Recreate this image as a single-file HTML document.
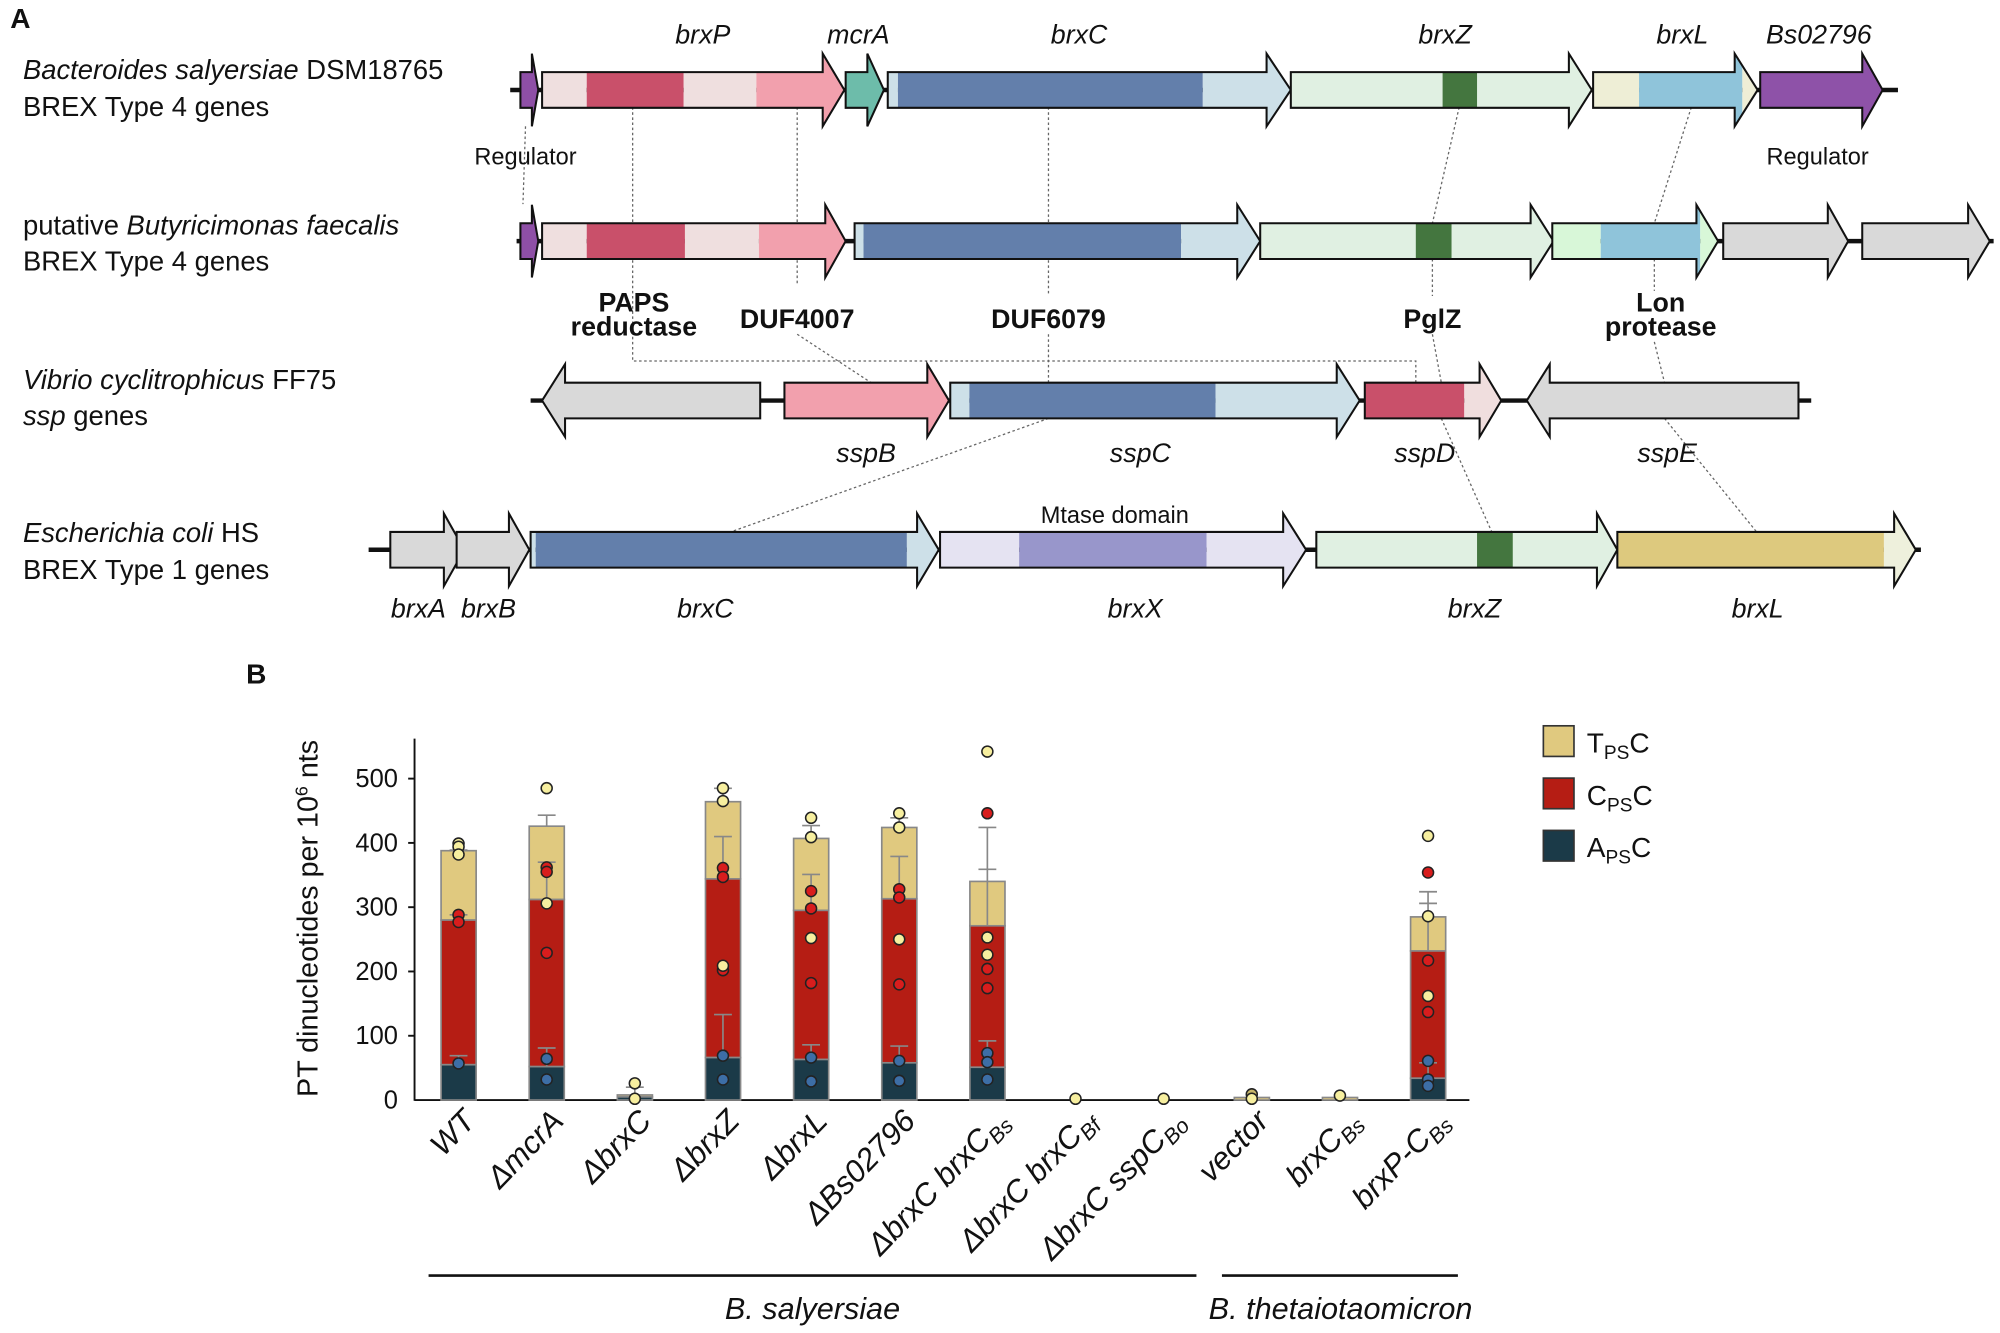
<!DOCTYPE html>
<html><head><meta charset="utf-8"><style>
html,body{margin:0;padding:0;background:#fff}
svg{display:block}
text{font-family:"Liberation Sans",Arial,sans-serif;fill:#111}
.it{font-style:italic}
.ol{fill:none;stroke:#111;stroke-width:1.6;stroke-linejoin:miter}
.dl{stroke:#666;stroke-width:1;stroke-dasharray:2,2;fill:none}
.bb{stroke:#111;stroke-width:3.5}
.bar{stroke:#888;stroke-width:1.3}
.eb{stroke:#888;stroke-width:1.3;fill:none}
.dy{fill:#f7ef9f;stroke:#222;stroke-width:1.2}
.dr{fill:#d81d1d;stroke:#222;stroke-width:1.2}
.db{fill:#3d6ea6;stroke:#222;stroke-width:1.2}
</style></head><body>
<svg width="2000" height="1333" viewBox="0 0 1568 1045" xmlns="http://www.w3.org/2000/svg">
<defs>
<clipPath id="a1"><polygon points="408,56.5 417,56.5 417,42 422,70.5 417,99 417,84.5 408,84.5"/></clipPath>
<clipPath id="a2"><polygon points="425,56.5 645,56.5 645,42 662,70.5 645,99 645,84.5 425,84.5"/></clipPath>
<clipPath id="a3"><polygon points="663,56.5 680,56.5 680,42 693,70.5 680,99 680,84.5 663,84.5"/></clipPath>
<clipPath id="a4"><polygon points="696,56.5 993,56.5 993,42 1012,70.5 993,99 993,84.5 696,84.5"/></clipPath>
<clipPath id="a5"><polygon points="1012,56.5 1230,56.5 1230,42 1248,70.5 1230,99 1230,84.5 1012,84.5"/></clipPath>
<clipPath id="a6"><polygon points="1249,56.5 1360,56.5 1360,42 1378,70.5 1360,99 1360,84.5 1249,84.5"/></clipPath>
<clipPath id="a7"><polygon points="1380,56.5 1460,56.5 1460,42 1476,70.5 1460,99 1460,84.5 1380,84.5"/></clipPath>
<clipPath id="b1"><polygon points="408,175 417,175 417,160.5 422,189 417,217.5 417,203 408,203"/></clipPath>
<clipPath id="b2"><polygon points="425,175 647,175 647,160.5 663,189 647,217.5 647,203 425,203"/></clipPath>
<clipPath id="b3"><polygon points="670,175 970,175 970,160.5 988,189 970,217.5 970,203 670,203"/></clipPath>
<clipPath id="b4"><polygon points="988,175 1200,175 1200,160.5 1218,189 1200,217.5 1200,203 988,203"/></clipPath>
<clipPath id="b5"><polygon points="1217,175 1330,175 1330,160.5 1347,189 1330,217.5 1330,203 1217,203"/></clipPath>
<clipPath id="c3"><polygon points="745,300 1048,300 1048,285.5 1066,314 1048,342.5 1048,328 745,328"/></clipPath>
<clipPath id="c4"><polygon points="1070,300 1160,300 1160,285.5 1177,314 1160,342.5 1160,328 1070,328"/></clipPath>
<clipPath id="d3"><polygon points="416,417 719,417 719,402.5 736,431 719,459.5 719,445 416,445"/></clipPath>
<clipPath id="d4"><polygon points="737,417 1006,417 1006,402.5 1024,431 1006,459.5 1006,445 737,445"/></clipPath>
<clipPath id="d5"><polygon points="1032,417 1252,417 1252,402.5 1268,431 1252,459.5 1252,445 1032,445"/></clipPath>
<clipPath id="d6"><polygon points="1268,417 1485,417 1485,402.5 1502,431 1485,459.5 1485,445 1268,445"/></clipPath>
</defs>

<text x="8" y="22" font-size="22" font-weight="bold">A</text>

<polyline class="dl" points="412,99 410,160"/>
<polyline class="dl" points="496,84 496,283 1110,283 1110,300"/>
<polyline class="dl" points="625,84 625,222"/>
<polyline class="dl" points="625,262 683,300"/>
<polyline class="dl" points="822,84 822,232"/>
<polyline class="dl" points="822,262 822,300"/>
<polyline class="dl" points="822,328 570,418"/>
<polyline class="dl" points="1144,84 1123,175"/>
<polyline class="dl" points="1123,203 1123,232"/>
<polyline class="dl" points="1123,262 1130,300"/>
<polyline class="dl" points="1130,328 1170,418"/>
<polyline class="dl" points="1326,84 1297,175"/>
<polyline class="dl" points="1297,203 1297,228"/>
<polyline class="dl" points="1297,268 1305,300"/>
<polyline class="dl" points="1305,328 1378,418"/>

<g font-size="21.5">
<text x="18" y="62"><tspan class="it">Bacteroides salyersiae</tspan> DSM18765</text>
<text x="18" y="91">BREX Type 4 genes</text>
<text x="18" y="184">putative <tspan class="it">Butyricimonas faecalis</tspan></text>
<text x="18" y="212">BREX Type 4 genes</text>
<text x="18" y="305"><tspan class="it">Vibrio cyclitrophicus</tspan> FF75</text>
<text x="18" y="333"><tspan class="it">ssp</tspan> genes</text>
<text x="18" y="425"><tspan class="it">Escherichia coli</tspan> HS</text>
<text x="18" y="454">BREX Type 1 genes</text>
</g>

<line class="bb" x1="400" y1="70.5" x2="1488" y2="70.5"/>
<g clip-path="url(#a1)"><rect x="400" y="30" width="30" height="80" fill="#8e4fa6"/></g>
<polygon class="ol" points="408,56.5 417,56.5 417,42 422,70.5 417,99 417,84.5 408,84.5"/>
<g clip-path="url(#a2)"><rect x="425" y="30" width="35" height="80" fill="#efdfdf"/><rect x="460" y="30" width="76" height="80" fill="#c9506a"/><rect x="536" y="30" width="57" height="80" fill="#efdfdf"/><rect x="593" y="30" width="70" height="80" fill="#f2a0ad"/></g>
<polygon class="ol" points="425,56.5 645,56.5 645,42 662,70.5 645,99 645,84.5 425,84.5"/>
<g clip-path="url(#a3)"><rect x="660" y="30" width="40" height="80" fill="#6dbcaa"/></g>
<polygon class="ol" points="663,56.5 680,56.5 680,42 693,70.5 680,99 680,84.5 663,84.5"/>
<g clip-path="url(#a4)"><rect x="696" y="30" width="8" height="80" fill="#cde0e8"/><rect x="704" y="30" width="239" height="80" fill="#637fab"/><rect x="943" y="30" width="70" height="80" fill="#cde0e8"/></g>
<polygon class="ol" points="696,56.5 993,56.5 993,42 1012,70.5 993,99 993,84.5 696,84.5"/>
<g clip-path="url(#a5)"><rect x="1012" y="30" width="240" height="80" fill="#e0f0e2"/><rect x="1131" y="30" width="27" height="80" fill="#44763f"/></g>
<polygon class="ol" points="1012,56.5 1230,56.5 1230,42 1248,70.5 1230,99 1230,84.5 1012,84.5"/>
<g clip-path="url(#a6)"><rect x="1249" y="30" width="36" height="80" fill="#eeeed6"/><rect x="1285" y="30" width="81" height="80" fill="#8fc4da"/><rect x="1366" y="30" width="14" height="80" fill="#eeeed6"/></g>
<polygon class="ol" points="1249,56.5 1360,56.5 1360,42 1378,70.5 1360,99 1360,84.5 1249,84.5"/>
<g clip-path="url(#a7)"><rect x="1378" y="30" width="100" height="80" fill="#8e52a8"/></g>
<polygon class="ol" points="1380,56.5 1460,56.5 1460,42 1476,70.5 1460,99 1460,84.5 1380,84.5"/>
<g font-size="21" text-anchor="middle">
<text x="551" y="34" class="it">brxP</text><text x="673" y="34" class="it">mcrA</text><text x="846" y="34" class="it">brxC</text><text x="1133" y="34" class="it">brxZ</text><text x="1319" y="34" class="it">brxL</text><text x="1426" y="34" class="it">Bs02796</text>
</g>
<text x="412" y="129" font-size="18.5" text-anchor="middle">Regulator</text>
<text x="1425" y="129" font-size="18.5" text-anchor="middle">Regulator</text>

<line class="bb" x1="405" y1="189" x2="1563" y2="189"/>
<g clip-path="url(#b1)"><rect x="400" y="150" width="30" height="80" fill="#8e4fa6"/></g>
<polygon class="ol" points="408,175 417,175 417,160.5 422,189 417,217.5 417,203 408,203"/>
<g clip-path="url(#b2)"><rect x="425" y="150" width="35" height="80" fill="#efdfdf"/><rect x="460" y="150" width="77" height="80" fill="#c9506a"/><rect x="537" y="150" width="58" height="80" fill="#efdfdf"/><rect x="595" y="150" width="70" height="80" fill="#f2a0ad"/></g>
<polygon class="ol" points="425,175 647,175 647,160.5 663,189 647,217.5 647,203 425,203"/>
<g clip-path="url(#b3)"><rect x="670" y="150" width="7" height="80" fill="#cde0e8"/><rect x="677" y="150" width="249" height="80" fill="#637fab"/><rect x="926" y="150" width="64" height="80" fill="#cde0e8"/></g>
<polygon class="ol" points="670,175 970,175 970,160.5 988,189 970,217.5 970,203 670,203"/>
<g clip-path="url(#b4)"><rect x="988" y="150" width="232" height="80" fill="#e0f0e2"/><rect x="1110" y="150" width="28" height="80" fill="#44763f"/></g>
<polygon class="ol" points="988,175 1200,175 1200,160.5 1218,189 1200,217.5 1200,203 988,203"/>
<g clip-path="url(#b5)"><rect x="1217" y="150" width="38" height="80" fill="#d8f7d8"/><rect x="1255" y="150" width="78" height="80" fill="#8fc4da"/><rect x="1333" y="150" width="16" height="80" fill="#d8f7d8"/></g>
<polygon class="ol" points="1217,175 1330,175 1330,160.5 1347,189 1330,217.5 1330,203 1217,203"/>
<polygon class="ol" style="fill:#d9d9d9" points="1351,175 1433,175 1433,160.5 1449,189 1433,217.5 1433,203 1351,203"/>
<polygon class="ol" style="fill:#d9d9d9" points="1460,175 1543,175 1543,160.5 1560,189 1543,217.5 1543,203 1460,203"/>
<g font-size="21" font-weight="bold" text-anchor="middle">
<text x="497" y="244">PAPS</text><text x="497" y="263">reductase</text>
<text x="625" y="257">DUF4007</text><text x="822" y="257">DUF6079</text><text x="1123" y="257">PglZ</text>
<text x="1302" y="244">Lon</text><text x="1302" y="263">protease</text>
</g>

<line class="bb" x1="416" y1="314" x2="1420" y2="314"/>
<polygon class="ol" style="fill:#d9d9d9" points="596,300 443,300 443,285.5 425,314 443,342.5 443,328 596,328"/>
<polygon class="ol" style="fill:#f2a0ad" points="615,300 727,300 727,285.5 744,314 727,342.5 727,328 615,328"/>
<g clip-path="url(#c3)"><rect x="745" y="270" width="15" height="80" fill="#cde0e8"/><rect x="760" y="270" width="193" height="80" fill="#637fab"/><rect x="953" y="270" width="115" height="80" fill="#cde0e8"/></g>
<polygon class="ol" points="745,300 1048,300 1048,285.5 1066,314 1048,342.5 1048,328 745,328"/>
<g clip-path="url(#c4)"><rect x="1070" y="270" width="78" height="80" fill="#c9506a"/><rect x="1148" y="270" width="30" height="80" fill="#f0dede"/></g>
<polygon class="ol" points="1070,300 1160,300 1160,285.5 1177,314 1160,342.5 1160,328 1070,328"/>
<polygon class="ol" style="fill:#d9d9d9" points="1410,300 1215,300 1215,285.5 1197,314 1215,342.5 1215,328 1410,328"/>
<g font-size="21" text-anchor="middle">
<text x="679" y="362" class="it">sspB</text><text x="894" y="362" class="it">sspC</text><text x="1117" y="362" class="it">sspD</text><text x="1307" y="362" class="it">sspE</text>
</g>

<line class="bb" x1="289" y1="431" x2="1506" y2="431"/>
<polygon class="ol" style="fill:#d9d9d9" points="306,417 348,417 348,402.5 364,431 348,459.5 348,445 306,445"/>
<polygon class="ol" style="fill:#d9d9d9" points="358,417 399,417 399,402.5 415,431 399,459.5 399,445 358,445"/>
<g clip-path="url(#d3)"><rect x="416" y="390" width="4" height="80" fill="#cde0e8"/><rect x="420" y="390" width="291" height="80" fill="#637fab"/><rect x="711" y="390" width="26" height="80" fill="#cde0e8"/></g>
<polygon class="ol" points="416,417 719,417 719,402.5 736,431 719,459.5 719,445 416,445"/>
<g clip-path="url(#d4)"><rect x="737" y="390" width="62" height="80" fill="#e5e3f2"/><rect x="799" y="390" width="147" height="80" fill="#9896cb"/><rect x="946" y="390" width="80" height="80" fill="#e5e3f2"/></g>
<polygon class="ol" points="737,417 1006,417 1006,402.5 1024,431 1006,459.5 1006,445 737,445"/>
<g clip-path="url(#d5)"><rect x="1032" y="390" width="238" height="80" fill="#e0f0e2"/><rect x="1158" y="390" width="28" height="80" fill="#44763f"/></g>
<polygon class="ol" points="1032,417 1252,417 1252,402.5 1268,431 1252,459.5 1252,445 1032,445"/>
<g clip-path="url(#d6)"><rect x="1268" y="390" width="209" height="80" fill="#ddc97e"/><rect x="1477" y="390" width="27" height="80" fill="#eef0dc"/></g>
<polygon class="ol" points="1268,417 1485,417 1485,402.5 1502,431 1485,459.5 1485,445 1268,445"/>
<text x="874" y="410" font-size="18.5" text-anchor="middle">Mtase domain</text>
<g font-size="21" text-anchor="middle">
<text x="328" y="484" class="it">brxA</text><text x="383" y="484" class="it">brxB</text><text x="553" y="484" class="it">brxC</text><text x="890" y="484" class="it">brxX</text><text x="1156" y="484" class="it">brxZ</text><text x="1378" y="484" class="it">brxL</text>
</g>

<text x="193" y="536" font-size="22" font-weight="bold">B</text>
<text transform="translate(249,720) rotate(-90)" font-size="22.5" text-anchor="middle">PT dinucleotides per 10<tspan font-size="14" dy="-8">6</tspan><tspan dy="8"> nts</tspan></text>
<g font-size="20" text-anchor="end">
<text x="312" y="869">0</text><text x="312" y="818.6">100</text><text x="312" y="768.2">200</text><text x="312" y="717.8">300</text><text x="312" y="667.4">400</text><text x="312" y="617">500</text>
</g>
<g stroke="#111" stroke-width="1.5">
<line x1="325" y1="579" x2="325" y2="863"/>
<line x1="325" y1="862.4" x2="1152" y2="862.4"/>
<line x1="320" y1="812" x2="325" y2="812"/><line x1="320" y1="761.6" x2="325" y2="761.6"/><line x1="320" y1="711.2" x2="325" y2="711.2"/><line x1="320" y1="660.8" x2="325" y2="660.8"/><line x1="320" y1="610.4" x2="325" y2="610.4"/>
</g>

<g class="bar">
<rect x="345.8" y="666.9" width="27.5" height="54.4" fill="#e0c97f"/><rect x="345.8" y="721.3" width="27.5" height="113.4" fill="#b51d14"/><rect x="345.8" y="834.7" width="27.5" height="27.7" fill="#1b3a48"/>
<rect x="414.9" y="647.7" width="27.5" height="57.5" fill="#e0c97f"/><rect x="414.9" y="705.2" width="27.5" height="131" fill="#b51d14"/><rect x="414.9" y="836.2" width="27.5" height="26.2" fill="#1b3a48"/>
<rect x="484" y="858.4" width="27.5" height="1.5" fill="#e0c97f"/><rect x="484" y="859.9" width="27.5" height="2.5" fill="#1b3a48"/>
<rect x="553.1" y="628.5" width="27.5" height="60.5" fill="#e0c97f"/><rect x="553.1" y="689" width="27.5" height="140.1" fill="#b51d14"/><rect x="553.1" y="829.1" width="27.5" height="33.3" fill="#1b3a48"/>
<rect x="622.2" y="657.3" width="27.5" height="56.4" fill="#e0c97f"/><rect x="622.2" y="713.7" width="27.5" height="116.9" fill="#b51d14"/><rect x="622.2" y="830.6" width="27.5" height="31.8" fill="#1b3a48"/>
<rect x="691.3" y="648.7" width="27.5" height="55.9" fill="#e0c97f"/><rect x="691.3" y="704.6" width="27.5" height="128.6" fill="#b51d14"/><rect x="691.3" y="833.2" width="27.5" height="29.2" fill="#1b3a48"/>
<rect x="760.4" y="691" width="27.5" height="34.8" fill="#e0c97f"/><rect x="760.4" y="725.8" width="27.5" height="110.9" fill="#b51d14"/><rect x="760.4" y="836.7" width="27.5" height="25.7" fill="#1b3a48"/>
<rect x="967.7" y="860.4" width="27.5" height="2" fill="#e0c97f"/>
<rect x="1036.8" y="860.4" width="27.5" height="2" fill="#e0c97f"/>
<rect x="1105.9" y="718.8" width="27.5" height="26.7" fill="#e0c97f"/><rect x="1105.9" y="745.5" width="27.5" height="99.8" fill="#b51d14"/><rect x="1105.9" y="845.3" width="27.5" height="17.1" fill="#1b3a48"/>
</g>

<g class="eb">
<path d="M359.5 834.7V827.6M352.5 827.6h14M359.5 721.3V717.2M352.5 717.2h14M359.5 666.9V666.4M352.5 666.4h14"/>
<path d="M428.6 836.2V821.6M421.6 821.6h14M428.6 705.2V675.9M421.6 675.9h14M428.6 647.7V639.1M421.6 639.1h14"/>
<path d="M497.7 858.4V852.3M490.7 852.3h14"/>
<path d="M566.8 829.1V795.4M559.8 795.4h14M566.8 689V655.8M559.8 655.8h14M566.8 628.5V618M559.8 618h14"/>
<path d="M635.9 830.6V819.1M628.9 819.1h14M635.9 713.7V685.5M628.9 685.5h14M635.9 657.3V647.2M628.9 647.2h14"/>
<path d="M705 833.2V820.1M698 820.1h14M705 704.6V671.4M698 671.4h14M705 648.7V641.1M698 641.1h14"/>
<path d="M774.1 836.7V816M767.1 816h14M774.1 725.8V681.5M767.1 681.5h14M774.1 691V648.7M767.1 648.7h14"/>
<path d="M1119.6 845.3V833.2M1112.6 833.2h14M1119.6 745.5V708.2M1112.6 708.2h14M1119.6 718.8V699.1M1112.6 699.1h14"/>
</g>

<g>
<circle class="dy" cx="359.5" cy="661.3" r="4.3"/><circle class="dy" cx="359.5" cy="663.8" r="4.3"/><circle class="dy" cx="359.5" cy="669.9" r="4.3"/><circle class="dr" cx="359.5" cy="717.2" r="4.3"/><circle class="dr" cx="359.5" cy="722.8" r="4.3"/><circle class="db" cx="359.5" cy="833.7" r="4.3"/>
<circle class="dy" cx="428.6" cy="617.9" r="4.3"/><circle class="dy" cx="428.6" cy="708.2" r="4.3"/><circle class="dr" cx="428.6" cy="680" r="4.3"/><circle class="dr" cx="428.6" cy="683.5" r="4.3"/><circle class="dr" cx="428.6" cy="747" r="4.3"/><circle class="db" cx="428.6" cy="830.1" r="4.3"/><circle class="db" cx="428.6" cy="846.3" r="4.3"/>
<circle class="dy" cx="497.7" cy="849.3" r="4.3"/><circle class="dy" cx="497.7" cy="861.4" r="4.3"/>
<circle class="dy" cx="566.8" cy="617.9" r="4.3"/><circle class="dy" cx="566.8" cy="628" r="4.3"/><circle class="dr" cx="566.8" cy="680.5" r="4.3"/><circle class="dr" cx="566.8" cy="687.5" r="4.3"/><circle class="dr" cx="566.8" cy="760.6" r="4.3"/><circle class="dy" cx="566.8" cy="757.1" r="4.3"/><circle class="db" cx="566.8" cy="827.6" r="4.3"/><circle class="db" cx="566.8" cy="846.3" r="4.3"/>
<circle class="dy" cx="635.9" cy="641.1" r="4.3"/><circle class="dy" cx="635.9" cy="656.3" r="4.3"/><circle class="dy" cx="635.9" cy="735.4" r="4.3"/><circle class="dr" cx="635.9" cy="698.6" r="4.3"/><circle class="dr" cx="635.9" cy="712.2" r="4.3"/><circle class="dr" cx="635.9" cy="770.7" r="4.3"/><circle class="db" cx="635.9" cy="829.1" r="4.3"/><circle class="db" cx="635.9" cy="847.8" r="4.3"/>
<circle class="dy" cx="705" cy="637.6" r="4.3"/><circle class="dy" cx="705" cy="648.7" r="4.3"/><circle class="dy" cx="705" cy="736.4" r="4.3"/><circle class="dr" cx="705" cy="697.1" r="4.3"/><circle class="dr" cx="705" cy="703.6" r="4.3"/><circle class="dr" cx="705" cy="771.7" r="4.3"/><circle class="db" cx="705" cy="831.7" r="4.3"/><circle class="db" cx="705" cy="847.3" r="4.3"/>
<circle class="dy" cx="774.1" cy="589.2" r="4.3"/><circle class="dy" cx="774.1" cy="734.9" r="4.3"/><circle class="dy" cx="774.1" cy="748.5" r="4.3"/><circle class="dr" cx="774.1" cy="637.6" r="4.3"/><circle class="dr" cx="774.1" cy="759.6" r="4.3"/><circle class="dr" cx="774.1" cy="774.7" r="4.3"/><circle class="db" cx="774.1" cy="825.6" r="4.3"/><circle class="db" cx="774.1" cy="832.7" r="4.3"/><circle class="db" cx="774.1" cy="846.3" r="4.3"/>
<circle class="dy" cx="843.2" cy="861.4" r="4.3"/>
<circle class="dy" cx="912.3" cy="861.4" r="4.3"/>
<circle class="dy" cx="981.4" cy="857.9" r="4.3" style="fill:#c9b76a"/><circle class="dy" cx="981.4" cy="861.4" r="4.3"/>
<circle class="dy" cx="1050.5" cy="858.9" r="4.3"/>
<circle class="dy" cx="1119.6" cy="655.3" r="4.3"/><circle class="dy" cx="1119.6" cy="718.3" r="4.3"/><circle class="dy" cx="1119.6" cy="780.8" r="4.3"/><circle class="dr" cx="1119.6" cy="684" r="4.3"/><circle class="dr" cx="1119.6" cy="753" r="4.3"/><circle class="dr" cx="1119.6" cy="793.4" r="4.3"/><circle class="db" cx="1119.6" cy="831.7" r="4.3"/><circle class="db" cx="1119.6" cy="846.3" r="4.3"/><circle class="db" cx="1119.6" cy="851.3" r="4.3"/>
</g>

<g font-size="24.5" text-anchor="end">
<text class="it" transform="translate(374,880) rotate(-46)">WT</text>
<text class="it" transform="translate(443,880) rotate(-46)">ΔmcrA</text>
<text class="it" transform="translate(512,880) rotate(-46)">ΔbrxC</text>
<text class="it" transform="translate(581,880) rotate(-46)">ΔbrxZ</text>
<text class="it" transform="translate(650,880) rotate(-46)">ΔbrxL</text>
<text class="it" transform="translate(719,880) rotate(-46)">ΔBs02796</text>
<text class="it" transform="translate(792,880) rotate(-46)">ΔbrxC brxC<tspan font-size="17" dy="5">Bs</tspan></text>
<text class="it" transform="translate(861,880) rotate(-46)">ΔbrxC brxC<tspan font-size="17" dy="5">Bf</tspan></text>
<text class="it" transform="translate(930,880) rotate(-46)">ΔbrxC sspC<tspan font-size="17" dy="5">Bo</tspan></text>
<text class="it" transform="translate(996,880) rotate(-46)">vector</text>
<text class="it" transform="translate(1068,880) rotate(-46)">brxC<tspan font-size="17" dy="5">Bs</tspan></text>
<text class="it" transform="translate(1137,880) rotate(-46)">brxP-C<tspan font-size="17" dy="5">Bs</tspan></text>
</g>

<line x1="336" y1="1000" x2="938" y2="1000" stroke="#111" stroke-width="2"/>
<line x1="958" y1="1000" x2="1143" y2="1000" stroke="#111" stroke-width="2"/>
<text x="637" y="1034" font-size="24" text-anchor="middle" class="it">B. salyersiae</text>
<text x="1051" y="1034" font-size="24" text-anchor="middle" class="it">B. thetaiotaomicron</text>

<rect x="1210" y="569" width="24" height="24" fill="#e0c97f" stroke="#333" stroke-width="1.3"/>
<rect x="1210" y="610" width="24" height="24" fill="#b51d14" stroke="#333" stroke-width="1.3"/>
<rect x="1210" y="651" width="24" height="24" fill="#1b3a48" stroke="#333" stroke-width="1.3"/>
<g font-size="22">
<text x="1244" y="590">T<tspan font-size="15" dy="5">PS</tspan><tspan dy="-5">C</tspan></text>
<text x="1244" y="631">C<tspan font-size="15" dy="5">PS</tspan><tspan dy="-5">C</tspan></text>
<text x="1244" y="672">A<tspan font-size="15" dy="5">PS</tspan><tspan dy="-5">C</tspan></text>
</g>
</svg>
</body></html>
